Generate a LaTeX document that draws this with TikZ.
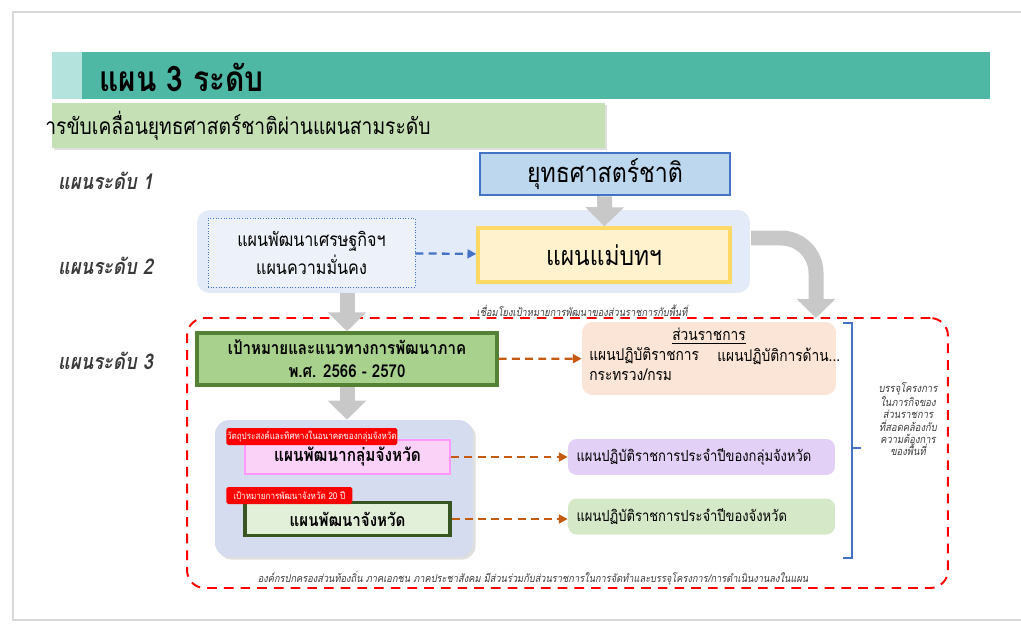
\documentclass[tikz,border=0pt]{standalone}
\usepackage{fontspec}
\setmainfont[Script=Thai, FakeStretch=0.85]{Loma}
\usetikzlibrary{arrows.meta,shadows}
\definecolor{teal1}{HTML}{4EB8A5}
\definecolor{teal2}{HTML}{B4E2DD}
\definecolor{subgreen}{HTML}{C5E0B4}
\definecolor{natfill}{HTML}{BDD7EE}
\definecolor{natdraw}{HTML}{4472C4}
\definecolor{lvlfill}{HTML}{E2EBF7}
\definecolor{ecofill}{HTML}{EDF2FA}
\definecolor{mstfill}{HTML}{FFF2CC}
\definecolor{mstdraw}{HTML}{FFD966}
\definecolor{goalfill}{HTML}{A9D18E}
\definecolor{goaldraw}{HTML}{548235}
\definecolor{agfill}{HTML}{FBE5D6}
\definecolor{provfill}{HTML}{D5DCF0}
\definecolor{grpfill}{HTML}{FAD2F8}
\definecolor{grpdraw}{HTML}{FF99FF}
\definecolor{prvfill}{HTML}{E2F0D9}
\definecolor{prvdraw}{HTML}{375623}
\definecolor{annA}{HTML}{E3D0F7}
\definecolor{annB}{HTML}{D5E8C7}
\definecolor{orng}{HTML}{C55A11}
\definecolor{agray}{HTML}{C8C8C8}
\definecolor{tgray}{HTML}{3A3A3A}
\tikzstyle{box}=[inner sep=0, align=center]
\tikzstyle{lvl}=[anchor=west, text=tgray, font=\fontsize{12.3}{14}\selectfont\bfseries\itshape]
\tikzstyle{ann}=[rounded corners=5pt, inner sep=0, minimum width=5.34cm, minimum height=0.72cm, text width=5.0cm, align=left, font=\fontsize{8.7}{10}\selectfont]
\tikzstyle{agtxt}=[anchor=west, inner sep=0, font=\fontsize{9.2}{11}\selectfont]
\tikzstyle{tag}=[fill=red, text=white, inner sep=0, rounded corners=1pt, minimum height=0.34cm, anchor=west, font=\fontsize{5.4}{6}\selectfont]
\tikzstyle{big}=[draw=agray, line width=0.3cm, -{Triangle[width=0.75cm, length=0.38cm]}]
\tikzstyle{dsh}=[dashed, dash pattern=on 4.5pt off 3pt, line width=1.3pt, -{Triangle[width=5pt, length=5pt]}]
\tikzstyle{note}=[text=tgray, font=\fontsize{6.2}{7}\selectfont\itshape]

\begin{document}
\begin{tikzpicture}[x=0.02cm, y=-0.02cm]
\useasboundingbox (0,0) rectangle (1021,625);

                        \draw[agray!70, line width=1.6pt] (1021,12) -- (13,12) -- (13,620) -- (1021,620);

                        \node[box, fill=teal2, minimum width=0.6cm, minimum height=0.94cm] (hl) at (67,75.5) {};
                        \node[box, fill=teal1, minimum width=18.16cm, minimum height=0.94cm] (hd) at (536,75.5) {};
                        \node[anchor=west, inner sep=0, font=\fontsize{20}{24}\selectfont\bfseries] (title) at (99,77) {แผน 3 ระดับ};

                        \node[box, fill=subgreen, minimum width=11.06cm, minimum height=0.9cm, drop shadow={opacity=0.25, shadow xshift=1pt, shadow yshift=-1pt}] (sub) at (328.5,125.5) {};
                        \node[anchor=west, inner sep=0, font=\fontsize{12.9}{15}\selectfont] (subt) at (45,126) {ารขับเคลื่อนยุทธศาสตร์ชาติผ่านแผนสามระดับ};

                        \node[lvl] (l1) at (52,181) {แผนระดับ 1};
                        \node[lvl] (l2) at (52,266) {แผนระดับ 2};
                        \node[lvl] (l3) at (52,361) {แผนระดับ 3};

                        \node[box, fill=natfill, draw=natdraw, line width=1.5pt, minimum width=5cm, minimum height=0.84cm, font=\fontsize{15.5}{18}\selectfont] (nat) at (605,174) {ยุทธศาสตร์ชาติ};

                        \node[box, fill=lvlfill, rounded corners=7pt, minimum width=11.06cm, minimum height=1.66cm] (lvl2) at (473.5,251.5) {};
                        \node[box, fill=ecofill, draw=natdraw, densely dotted, line width=0.5pt, minimum width=4.14cm, minimum height=1.38cm, font=\fontsize{10.8}{16}\selectfont] (eco) at (311.5,252.5) {แผนพัฒนาเศรษฐกิจฯ\\แผนความมั่นคง};
                        \node[box, fill=mstfill, draw=mstdraw, line width=2pt, minimum width=5.04cm, minimum height=1.08cm, font=\fontsize{15.3}{18}\selectfont] (mst) at (604,255) {แผนแม่บทฯ};

                        \node[note] (link) at (582,311) {เชื่อมโยงเป้าหมายการพัฒนาของส่วนราชการกับพื้นที่};

                        \node[box, draw=red, dashed, dash pattern=on 5.5pt off 4pt, line width=1.1pt, rounded corners=10pt, minimum width=15.22cm, minimum height=5.4cm] (zone) at (567.5,453) {};

                        \node[box, fill=goalfill, draw=goaldraw, line width=2pt, minimum width=6cm, minimum height=1.04cm, font=\fontsize{10.1}{13}\selectfont\bfseries] (goal) at (347,359) {เป้าหมายและแนวทางการพัฒนาภาค\\พ.ศ. 2566 - 2570};

                        \node[box, fill=agfill, rounded corners=6pt, minimum width=5.08cm, minimum height=1.46cm] (ag) at (709,358.5) {};
                        \node[agtxt, anchor=center] (agt) at (709,336) {\underline{ส่วนราชการ}};
                        \node[agtxt] (ag1) at (589,356) {แผนปฏิบัติราชการ};
                        \node[agtxt] (ag2) at (717,356) {แผนปฏิบัติการด้าน...};
                        \node[agtxt] (ag3) at (589,375) {กระทรวง/กรม};

                        \node[box, fill=provfill, rounded corners=8pt, minimum width=5.16cm, minimum height=2.74cm, drop shadow={opacity=0.25, shadow xshift=1.5pt, shadow yshift=-1.5pt}] (prov) at (344,488.5) {};
                        \node[box, fill=grpfill, draw=grpdraw, line width=1.5pt, minimum width=4.1cm, minimum height=0.68cm, font=\fontsize{10.3}{12}\selectfont\bfseries] (grp) at (347.5,457) {แผนพัฒนากลุ่มจังหวัด};
                        \node[box, fill=prvfill, draw=prvdraw, line width=2pt, minimum width=4.1cm, minimum height=0.66cm, font=\fontsize{10.1}{12}\selectfont\bfseries] (prv) at (347.5,519) {แผนพัฒนาจังหวัด};
                        \node[tag, minimum width=3.42cm] (tagA) at (226,436.5) {วัตถุประสงค์และทิศทางในอนาคตของกลุ่มจังหวัด};
                        \node[tag, minimum width=2.52cm] (tagB) at (226,495.5) {เป้าหมายการพัฒนาจังหวัด 20 ปี};

                        \node[ann, fill=annA] (annA) at (701.5,457) {แผนปฏิบัติราชการประจำปีของกลุ่มจังหวัด};
                        \node[ann, fill=annB] (annB) at (701.5,516.5) {แผนปฏิบัติราชการประจำปีของจังหวัด};

                        \coordinate (b1) at (843,323);
                        \coordinate (b2) at (852,323);
                        \coordinate (b3) at (852,558);
                        \coordinate (b4) at (843,558);
                        \coordinate (bm) at (852,448);
                        \coordinate (bt) at (861,448);
                        \node[note, align=center, font=\fontsize{6.3}{7}\selectfont\itshape] (fit) at (908,419) {บรรจุโครงการ\\ในภารกิจของ\\ส่วนราชการ\\ที่สอดคล้องกับ\\ความต้องการ\\ของพื้นที่};

                        \node[note] (bottom) at (533,578) {องค์กรปกครองส่วนท้องถิ่น ภาคเอกชน ภาคประชาสังคม มีส่วนร่วมกับส่วนราชการในการจัดทำและบรรจุโครงการ/การดำเนินงานลงในแผน};

                        \coordinate (cs) at (751,238);
                        \coordinate (ct) at (816,318);

                        \draw[big] (nat) -- (mst);
                        \draw[big, rounded corners=0.7cm] (cs) -| (ct);
                        \draw[big] (goal.north |- lvl2.south) -- (goal.north);
                        \draw[big] (goal.south) -- (goal.south |- prov.north);

                        \draw[dsh, natdraw] (eco) -- (mst);
                        \draw[dsh, orng] (goal) -- (ag);
                        \draw[dsh, orng] (grp.east) -- (grp.east -| annA.west);
                        \draw[dsh, orng] (prv.east) -- (prv.east -| annB.west);

                        \draw[natdraw, line width=1pt]
                        (b1) -- (b2) -- (b3) -- (b4)
                        (bm) -- (bt)
                        ;

\end{tikzpicture}
\end{document}
